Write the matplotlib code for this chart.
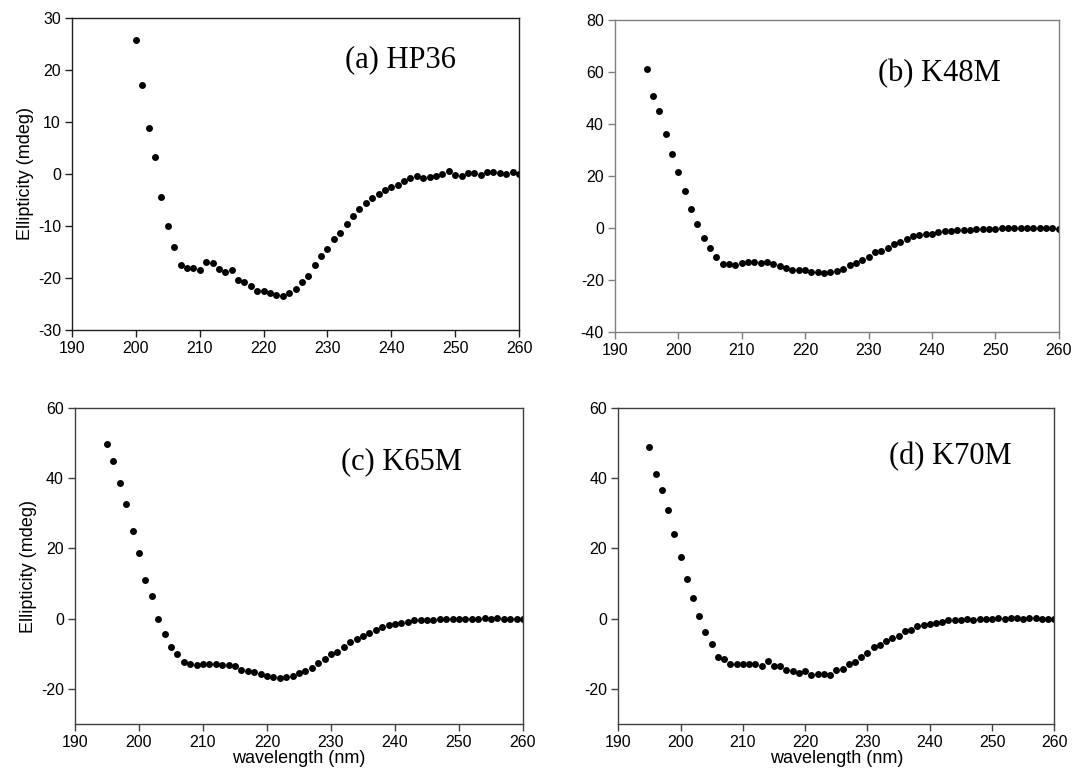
import matplotlib
matplotlib.use("Agg")
import matplotlib.pyplot as plt
import numpy as np

plt.rcParams["axes.unicode_minus"] = False

# CD spectra, one point per nm
wl_hp36 = np.arange(200, 261)
cd_hp36 = [25.7, 17.1, 8.9, 3.2, -4.5, -10.0, -14.0, -17.6, -18.1, -18.1,
           -18.5, -17.0, -17.2, -18.3, -18.9, -18.5, -20.3, -20.8, -21.5, -22.5,
           -22.5, -22.9, -23.3, -23.5, -22.8, -22.1, -20.8, -19.6, -17.5, -15.7,
           -14.5, -12.5, -11.3, -9.6, -8.1, -6.7, -5.5, -4.6, -3.8, -3.1,
           -2.5, -2.1, -1.3, -0.8, -0.4, -0.7, -0.6, -0.3, -0.1, 0.6,
           -0.2, -0.3, 0.1, 0.1, -0.2, 0.3, 0.3, 0.1, 0.0, 0.3, 0.0]

wl_mut = np.arange(195, 261)
cd_k48m = [61.3, 50.8, 45.1, 36.2, 28.6, 21.5, 14.4, 7.3, 1.7, -3.8,
           -7.7, -11.0, -13.6, -13.6, -14.0, -13.5, -12.9, -12.9, -13.5, -13.1,
           -13.6, -14.5, -15.1, -16.0, -16.2, -15.9, -16.9, -16.9, -17.3, -16.7,
           -16.4, -15.6, -14.2, -13.3, -12.2, -11.0, -9.0, -8.7, -7.4, -6.0,
           -5.1, -4.2, -2.9, -2.6, -2.2, -2.2, -1.3, -1.0, -0.9, -0.6,
           -0.5, -0.5, -0.4, -0.4, -0.3, -0.1, 0.1, 0.0, 0.0, 0.0,
           0.1, 0.1, 0.1, 0.1, 0.0, -0.1]
cd_k65m = [49.7, 44.8, 38.6, 32.6, 25.0, 18.7, 11.0, 6.4, -0.1, -4.5,
           -8.0, -10.0, -12.4, -13.0, -13.3, -13.0, -12.8, -12.8, -13.1, -13.1,
           -13.6, -14.6, -15.0, -15.3, -15.7, -16.2, -16.6, -17.0, -16.6, -16.2,
           -15.6, -15.0, -14.1, -12.7, -11.6, -10.2, -9.4, -8.0, -6.7, -5.8,
           -5.0, -4.0, -3.3, -2.5, -1.7, -1.4, -1.2, -0.8, -0.4, -0.4,
           -0.3, -0.4, -0.2, -0.1, -0.2, -0.2, -0.1, -0.1, -0.1, 0.1,
           0.0, 0.3, -0.2, 0.0, 0.0, 0.0]
cd_k70m = [49.0, 41.3, 36.7, 31.0, 24.2, 17.6, 11.2, 5.9, 0.8, -3.8,
           -7.3, -10.9, -11.5, -13.0, -13.0, -12.8, -12.8, -12.9, -13.4, -12.0,
           -13.4, -13.4, -14.7, -15.0, -15.4, -15.0, -16.1, -15.8, -15.8, -15.9,
           -14.7, -14.2, -13.0, -12.4, -11.0, -9.7, -8.2, -7.4, -6.4, -5.4,
           -4.8, -3.6, -3.2, -2.2, -1.7, -1.4, -1.2, -1.0, -0.4, -0.5,
           -0.3, -0.2, -0.3, -0.1, 0.0, -0.1, 0.1, -0.1, 0.2, 0.1,
           0.0, 0.2, 0.2, -0.2, -0.2, 0.0]

x_ticks = np.arange(190, 261, 10)

panels = [
    # data, label, ylim, yticks, rect, spine colour, label position
    (wl_hp36, cd_hp36, "(a) HP36", (-30, 30), np.arange(-30, 31, 10),
     [0.0669, 0.577, 0.415, 0.400], "#202020", (0.734, 0.865)),
    (wl_mut, cd_k48m, "(b) K48M", (-40, 80), np.arange(-40, 81, 20),
     [0.571, 0.574, 0.412, 0.400], "#808080", (0.73, 0.83)),
    (wl_mut, cd_k65m, "(c) K65M", (-30, 60), np.arange(-20, 61, 20),
     [0.0696, 0.0718, 0.416, 0.405], "#404040", (0.728, 0.829)),
    (wl_mut, cd_k70m, "(d) K70M", (-30, 60), np.arange(-20, 61, 20),
     [0.574, 0.0718, 0.405, 0.405], "#404040", (0.761, 0.845)),
]

fig = plt.figure(figsize=(10.77, 7.8), dpi=100)
fig.patch.set_facecolor("white")

for i, (wl, cd, label, ylim, yticks, rect, spine_c, lpos) in enumerate(panels):
    ax = fig.add_axes(rect)
    ax.plot(wl, cd, "o", color="black", markersize=5.0, markeredgewidth=0)
    ax.set_xlim(190, 260)
    ax.set_ylim(*ylim)
    ax.set_xticks(x_ticks)
    ax.set_yticks(yticks)
    for sp in ax.spines.values():
        sp.set_color(spine_c)
        sp.set_linewidth(1.0)
    ax.tick_params(direction="out", length=5, width=1.0, color=spine_c,
                   labelsize=11.5, pad=3)
    for t in ax.get_xticklabels() + ax.get_yticklabels():
        t.set_fontfamily("Liberation Sans")
    ax.text(lpos[0], lpos[1], label, transform=ax.transAxes,
            ha="center", va="center", fontsize=22, family="Liberation Serif")
    if i % 2 == 0:
        ax.set_ylabel("Ellipticity (mdeg)", fontsize=13,
                      family="Liberation Sans", labelpad=3)
    if i >= 2:
        ax.set_xlabel("wavelength (nm)", fontsize=13,
                      family="Liberation Sans", labelpad=0)

fig.savefig("out.png", dpi=100, facecolor="white")
